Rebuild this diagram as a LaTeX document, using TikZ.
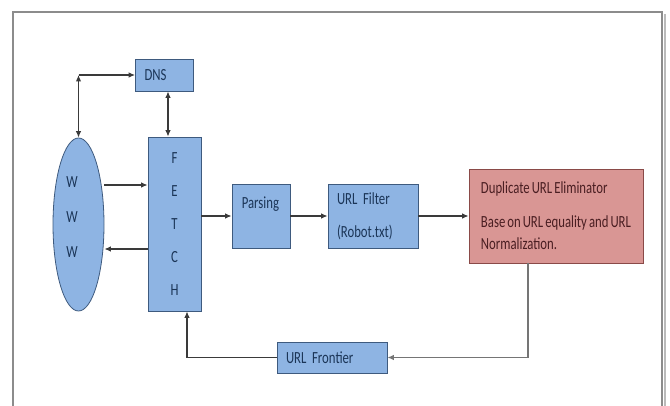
\documentclass[tikz,border=0pt]{standalone}
\usepackage{fontspec}
\newfontfamily\diagfont[FakeStretch=0.75,WordSpace=0.7]{Carlito}
\usetikzlibrary{arrows.meta,positioning,shapes.geometric}
\definecolor{wcBlue}  {HTML}{8EB4E3}
\definecolor{wcEdge}  {HTML}{3E5A7E}
\definecolor{wcInk}   {HTML}{1B3557}
\definecolor{wcRose}  {HTML}{D99694}
\definecolor{wcRoseEdge}{HTML}{8A4A48}
\definecolor{wcRoseInk}{HTML}{4A1E22}
\definecolor{wcWire}  {HTML}{3A3A3A}
\definecolor{wcFrame} {HTML}{8C8C8C}

\tikzset{
  box/.style={draw=wcEdge,fill=wcBlue,line width=0.8pt,inner xsep=9pt,inner ysep=0pt,
              align=left,text=wcInk,font=\diagfont\fontsize{17}{22}\selectfont},
  rosebox/.style={box,draw=wcRoseEdge,fill=wcRose,text=wcRoseInk},
  lbl/.style={inner sep=0pt,text=wcInk,font=\diagfont\fontsize{17}{22}\selectfont},
  wire/.style={draw=wcWire,line width=1.1pt,-{Latex[length=6.5pt,width=5.5pt]}},
  wire2/.style={wire,{Latex[length=6.5pt,width=5.5pt]}-{Latex[length=6.5pt,width=5.5pt]}}
}

\begin{document}
\begin{tikzpicture}[x=1pt,y=-1pt]
  \useasboundingbox (0,0) rectangle (670,406);
  % page frame
  \draw[wcFrame!60,line width=2pt] (665,14) -- (665,406);
  \draw[wcFrame,line width=1.6pt] (13,406) -- (13,12) -- (662,12) -- (662,406);

  % blocks
  \node[box,text width=40pt,minimum height=32pt] (dns) at (164.5,75) {DNS};
  \node[ellipse,draw=wcEdge,fill=wcBlue,line width=0.8pt,
        minimum width=51pt,minimum height=173pt,inner sep=0pt] (www) at (78.5,224.5) {};
  \node[lbl,align=center,font=\diagfont\fontsize{17}{35}\selectfont] (wwwtxt) at (72,217) {W\\W\\W};
  \node[box,align=center,text width=35pt,minimum height=174pt,
        font=\diagfont\fontsize{17}{33}\selectfont] (fetch) at (174.5,224) {F\\E\\T\\C\\H};
  \node[box,text width=40pt,minimum height=64pt] (parse) at (261,216) {};
  \node[lbl,anchor=base west] (parsetxt) at ([xshift=10pt,yshift=-25pt]parse.north west) {Parsing};
  \node[box,text width=72pt,minimum height=64pt,
        font=\diagfont\fontsize{17}{33}\selectfont] (filter) at (373,216) {URL Filter\\(Robot.txt)};
  \node[rosebox,minimum width=174pt,minimum height=94pt] (dup) at (556,216)
       {Duplicate URL Eliminator\\[12pt]Base on URL equality and URL\\Normalization.};
  \node[box,text width=92pt,minimum height=31pt] (frontier) at (332,357.5) {URL Frontier};

  % connectors
  \coordinate (corner) at (78.5,75);
  \coordinate (fetchin)  at ([yshift=39pt]fetch.west);
  \coordinate (fetchout) at ([yshift=-25pt]fetch.west);
  \draw[wire2] (www.north) -- (corner);
  \draw[wire] (corner) -- (dns.west);
  \draw[wire2] ([xshift=3.5pt]dns.south) -- ([xshift=3.5pt]dns.south |- fetch.north);
  \draw[wire] (www.east |- fetchin) -- (fetchin);
  \draw[wire] (fetchout) -- (www.east |- fetchout);
  \draw[wire] (fetch.east |- parse.west) -- (parse.west);
  \draw[wire] (parse.east) -- (filter.west);
  \draw[wire] (filter.east) -- (dup.west);
  \draw[wire,draw=wcWire!70] ([xshift=-28pt]dup.south) |- (frontier.east);
  \draw[wire] (frontier.west) -| ([xshift=12.5pt]fetch.south);
\end{tikzpicture}
\end{document}
